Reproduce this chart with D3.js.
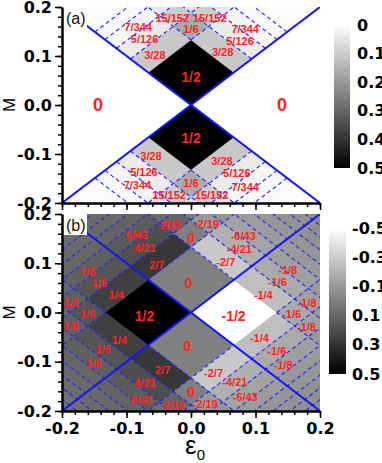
<!DOCTYPE html>
<html>
<head>
<meta charset="utf-8">
<script src="https://cdn.jsdelivr.net/npm/d3@7"></script>
<style>
  body { margin: 0; background: #fff; }
  svg { display: block; font-family: "Liberation Sans", Arial, sans-serif; }
</style>
</head>
<body>
<div id="chart"></div>
<script>
// band edges along the diagonals u = M + eps and v = M - eps
const bandEdges = [0, 0.133, 0.188, 0.231, 0.267, 0.298, 0.327, 0.353, 0.377, 0.4];

// panel (a): row = |u| band, column = |v| band; same for upper and lower wedge
const cellsA = [
    [1/2, 3/28, 5/126, 7/344, 0.012, 0.009, 0.007, 0.006, 0.005],
    [3/28, 1/6, 15/152, 0.045],
    [5/126, 15/152, 0.06],
    [7/344, 0.045],
    [0.012], [0.009], [0.007], [0.006], [0.005]
];

// panel (b) wedges
const cellsBLeft = [
    [1/2, 1/4, 1/6, 1/8, 1/10, 1/12, 1/14, 1/16, 1/18],
    [1/4, 1/6, 1/8, 1/10],
    [1/6, 1/8, 1/10],
    [1/8, 1/10],
    [1/10], [1/12], [1/14], [1/16], [1/18]
];
const cellsBRight = [
    [-1/2, -1/4, -1/6, -1/8, -1/10, -1/12, -1/14, -1/16, -1/18],
    [-1/4, -1/6, -1/8, -1/10],
    [-1/6, -1/8, -1/10],
    [-1/8, -1/10],
    [-1/10], [-1/12], [-1/14], [-1/16], [-1/18]
];
const cellsBUp = [
    [0, 2/7, 4/21, 6/43, 0.11, 0.09, 0.08, 0.07, 0.06],
    [-2/7, 0, 2/19, 0.08],
    [-4/21, -2/19, 0],
    [-6/43, -0.08],
    [-0.11], [-0.09], [-0.08], [-0.07], [-0.06]
];
const cellsBDown = [
    [0, -2/7, -4/21, -6/43, -0.11, -0.09, -0.08, -0.07, -0.06],
    [2/7, 0, -2/19, -0.08],
    [4/21, 2/19, 0],
    [6/43, 0.08],
    [0.11], [0.09], [0.08], [0.07], [0.06]
];

// labels: [text, eps0, M]
const labelsA = [
    ["0", -0.144, 0.0], ["0", 0.141, 0.0],
    ["1/2", 0, 0.058], ["1/2", 0, -0.067],
    ["3/28", -0.056, 0.103], ["5/126", -0.072, 0.134], ["7/344", -0.082, 0.160],
    ["15/152", -0.029, 0.178], ["15/152", 0.029, 0.178], ["1/6", 0, 0.155],
    ["7/344", 0.084, 0.155], ["5/126", 0.076, 0.130], ["3/28", 0.049, 0.109],
    ["3/28", -0.062, -0.105], ["5/126", -0.073, -0.136], ["7/344", -0.083, -0.163],
    ["1/6", 0, -0.16], ["15/152", -0.034, -0.184], ["15/152", 0.032, -0.184],
    ["3/28", 0.048, -0.114], ["5/126", 0.071, -0.138], ["7/344", 0.084, -0.167]
];
const labelsB = [
    ["2/19", -0.031, 0.178], ["-2/19", 0.024, 0.18], ["0", 0, 0.152],
    ["6/43", -0.084, 0.157], ["4/21", -0.071, 0.131], ["2/7", -0.053, 0.096],
    ["-6/43", 0.081, 0.155], ["-4/21", 0.075, 0.128], ["-2/7", 0.054, 0.102],
    ["0", -0.004, 0.06], ["0", -0.006, -0.068],
    ["1/2", -0.072, -0.008], ["-1/2", 0.066, -0.008],
    ["1/8", -0.16, 0.083], ["1/6", -0.142, 0.059], ["1/4", -0.116, 0.036],
    ["1/8", -0.186, 0.02], ["1/6", -0.16, -0.003], ["1/8", -0.186, -0.028],
    ["1/4", -0.111, -0.055], ["1/6", -0.136, -0.075], ["1/8", -0.15, -0.102],
    ["2/7", -0.044, -0.117], ["4/21", -0.071, -0.143], ["6/43", -0.076, -0.178],
    ["2/19", -0.026, -0.188], ["0", 0, -0.161], ["-2/19", 0.022, -0.185],
    ["-2/7", 0.035, -0.122], ["-4/21", 0.068, -0.142], ["-6/43", 0.084, -0.171],
    ["-1/4", 0.112, 0.035], ["-1/6", 0.134, 0.062], ["-1/8", 0.15, 0.087],
    ["-1/8", 0.18, 0.019], ["-1/6", 0.156, -0.003], ["-1/8", 0.179, -0.029],
    ["-1/4", 0.106, -0.052], ["-1/6", 0.133, -0.078], ["-1/8", 0.143, -0.106]
];

const axisTicks = [-0.2, -0.1, 0, 0.1, 0.2];
const colorTicksA = [0, 0.1, 0.2, 0.3, 0.4, 0.5];
const colorTicksB = [-0.5, -0.3, -0.1, 0.1, 0.3, 0.5];

const width = 382;
const height = 463;
const left = 62, right = 320;
const tickFont = "'DejaVu Sans', sans-serif";

const svg = d3.select("#chart").append("svg")
    .attr("width", width)
    .attr("height", height);

const defs = svg.append("defs");

const x = d3.scaleLinear().domain([-0.2, 0.2]).range([left, right]);
const minorTicks = d3.range(-0.2, 0.2001, 0.02);

function toEM(u, v) {
    return [(u - v) / 2, (u + v) / 2];
}

function drawPanel(opt) {
    const y = d3.scaleLinear().domain([-0.2, 0.2]).range([opt.bottom, opt.top]);
    const g = svg.append("g");

    defs.append("clipPath").attr("id", "clip-" + opt.id)
        .append("rect")
        .attr("x", left).attr("y", opt.top)
        .attr("width", right - left).attr("height", opt.bottom - opt.top);

    const plot = g.append("g").attr("clip-path", `url(#clip-${opt.id})`);

    plot.append("rect")
        .attr("x", left).attr("y", opt.top)
        .attr("width", right - left).attr("height", opt.bottom - opt.top)
        .attr("fill", opt.color(0));

    const line = d3.line().x(d => x(d[0])).y(d => y(d[1]));

    // cells of each wedge
    const cells = [];
    for (const w of opt.wedges) {
        w.cells.forEach((row, i) => row.forEach((val, j) => {
            const u0 = w.su * bandEdges[i], u1 = w.su * bandEdges[i + 1];
            const v0 = w.sv * bandEdges[j], v1 = w.sv * bandEdges[j + 1];
            cells.push({
                val,
                pts: [toEM(u0, v0), toEM(u1, v0), toEM(u1, v1), toEM(u0, v1)]
            });
        }));
    }
    plot.selectAll("path.cell")
        .data(cells)
        .join("path")
        .attr("class", "cell")
        .attr("d", d => line(d.pts) + "Z")
        .attr("fill", d => opt.color(d.val))
        .attr("stroke", d => opt.color(d.val))
        .attr("stroke-width", 0.6);

    // dashed band boundaries
    plot.selectAll("path.dash")
        .data(opt.dashes)
        .join("path")
        .attr("class", "dash")
        .attr("d", d => line(d))
        .attr("fill", "none")
        .attr("stroke", "#1f1fff")
        .attr("stroke-width", 1.1)
        .attr("stroke-dasharray", "4,3");

    // solid diagonals
    plot.selectAll("path.diag")
        .data([[[-0.2, -0.2], [0.2, 0.2]], [[-0.2, 0.2], [0.2, -0.2]]])
        .join("path")
        .attr("class", "diag")
        .attr("d", d => line(d))
        .attr("stroke", "#1414ff")
        .attr("stroke-width", 2);

    // panel tag
    plot.append("rect")
        .attr("x", left).attr("y", opt.top)
        .attr("width", 25).attr("height", opt.tagH)
        .attr("fill", "#fff");
    g.append("text")
        .attr("x", left + 4).attr("y", opt.top + 17)
        .attr("font-size", 16)
        .attr("fill", "#111")
        .text(opt.tag);

    // red value labels
    g.selectAll("text.val")
        .data(opt.labels)
        .join("text")
        .attr("class", "val")
        .attr("x", d => x(d[1]))
        .attr("y", d => y(d[2]))
        .attr("text-anchor", "middle")
        .attr("dominant-baseline", "central")
        .attr("font-weight", "bold")
        .attr("font-size", d => opt.labelSize(d[0]))
        .attr("fill", "#ff2424")
        .text(d => d[0]);

    // axes
    g.append("g")
        .attr("transform", `translate(${left},0)`)
        .call(d3.axisLeft(y).tickValues(axisTicks).tickSize(7).tickSizeOuter(0).tickPadding(3)
            .tickFormat(d => d.toFixed(1)));
    g.append("g")
        .attr("transform", `translate(${left},0)`)
        .call(d3.axisLeft(y).tickValues(minorTicks).tickSize(4).tickSizeOuter(0).tickFormat(""))
        .call(a => a.select(".domain").remove());

    g.append("g")
        .attr("transform", `translate(0,${opt.bottom})`)
        .call(d3.axisBottom(x).tickValues(axisTicks).tickSize(7).tickSizeOuter(0).tickPadding(5)
            .tickFormat(opt.xLabels ? d => d.toFixed(1) : ""));
    g.append("g")
        .attr("transform", `translate(0,${opt.bottom})`)
        .call(d3.axisBottom(x).tickValues(minorTicks).tickSize(4).tickSizeOuter(0).tickFormat(""))
        .call(a => a.select(".domain").remove());

    g.selectAll(".domain").attr("stroke-width", 2.5);
    g.selectAll(".tick line").attr("stroke-width", 1.5);
    g.selectAll(".tick text")
        .attr("font-family", tickFont)
        .attr("font-size", 16)
        .attr("font-weight", "bold")
        .attr("fill", "#000");

    // y label
    g.append("text")
        .attr("transform", `translate(15,${(opt.top + opt.bottom) / 2}) rotate(-90)`)
        .attr("text-anchor", "middle")
        .attr("font-size", 17)
        .text("M");

    // colour bar
    const gid = "grad-" + opt.id;
    const grad = defs.append("linearGradient").attr("id", gid)
        .attr("x1", 0).attr("y1", 0).attr("x2", 0).attr("y2", 1);
    grad.selectAll("stop")
        .data(opt.cbDomain)
        .join("stop")
        .attr("offset", (d, i) => i / (opt.cbDomain.length - 1))
        .attr("stop-color", d => opt.color(d));
    svg.append("rect")
        .attr("x", opt.cb.x).attr("y", opt.cb.y0)
        .attr("width", opt.cb.w).attr("height", opt.cb.y1 - opt.cb.y0)
        .attr("fill", `url(#${gid})`);
    const cbScale = d3.scaleLinear().domain(d3.extent(opt.cbTicks)).range([opt.cb.y0, opt.cb.y1]);
    svg.append("g")
        .attr("transform", `translate(${opt.cb.x + opt.cb.w},0)`)
        .call(d3.axisRight(cbScale).tickValues(opt.cbTicks).tickSize(0).tickPadding(opt.cb.pad)
            .tickFormat(d => d === 0 ? "0" : d.toFixed(1)))
        .call(a => a.select(".domain").remove())
        .selectAll("text")
        .attr("font-family", tickFont)
        .attr("font-size", 16)
        .attr("font-weight", "bold")
        .attr("fill", "#000");
}

// dashed segments, given in (u, v) and converted to (eps, M)
function seg(u0, v0, u1, v1) {
    return [toEM(u0, v0), toEM(u1, v1)];
}

const dashesA = [];
const dashesB = [];
bandEdges.slice(1, 9).forEach((c, k) => {
    const s = k === 0 ? c : 0;
    if (k < 5) {
        dashesA.push(seg(c, s, c, 0.4), seg(s, c, 0.4, c), seg(-c, -s, -c, -0.4), seg(-s, -c, -0.4, -c));
    }
    if (k === 0) {
        dashesB.push(seg(-c, -0.4, -c, 0), seg(-c, c, -c, 0.4));
        dashesB.push(seg(c, -0.4, c, -c), seg(c, 0, c, 0.4));
        dashesB.push(seg(-0.4, c, -c, c), seg(0, c, 0.4, c));
        dashesB.push(seg(-0.4, -c, 0, -c), seg(c, -c, 0.4, -c));
    } else {
        dashesB.push(seg(c, -0.4, c, 0.4), seg(-c, -0.4, -c, 0.4));
        dashesB.push(seg(-0.4, c, 0.4, c), seg(-0.4, -c, 0.4, -c));
    }
});

const greyA = d3.scaleLinear().domain([0, 0.5]).range(["#ffffff", "#000000"]).clamp(true);
const greyB = d3.scaleLinear().domain([-0.5, 0.5]).range(["#ffffff", "#000000"]).clamp(true);

drawPanel({
    id: "a", top: 7, bottom: 203, tag: "(a)", tagH: 21,
    color: greyA,
    wedges: [
        { su: 1, sv: 1, cells: cellsA },
        { su: -1, sv: -1, cells: cellsA }
    ],
    dashes: dashesA,
    labels: labelsA,
    labelSize: t => t === "0" ? 18 : t === "1/2" ? 14 : 11,
    xLabels: false,
    cbDomain: [0, 0.5],
    cbTicks: colorTicksA,
    cb: { x: 334, w: 16, y0: 25, y1: 168, pad: 7 }
});

drawPanel({
    id: "b", top: 214, bottom: 411, tag: "(b)", tagH: 21,
    color: greyB,
    wedges: [
        { su: -1, sv: 1, cells: cellsBLeft },
        { su: 1, sv: -1, cells: cellsBRight },
        { su: 1, sv: 1, cells: cellsBUp },
        { su: -1, sv: -1, cells: cellsBDown }
    ],
    dashes: dashesB,
    labels: labelsB,
    labelSize: t => (t === "0" || t === "1/2" || t === "-1/2") ? 14 : 11,
    xLabels: true,
    cbDomain: [-0.5, 0.5],
    cbTicks: colorTicksB,
    cb: { x: 329, w: 17, y0: 228, y1: 374, pad: 6 }
});

// x label: epsilon with subscript 0
const xl = svg.append("text")
    .attr("x", 195).attr("y", 454)
    .attr("text-anchor", "middle");
xl.append("tspan").attr("font-size", 26).text("ε");
xl.append("tspan").attr("font-size", 15).attr("dy", 6).text("0");
</script>
</body>
</html>
